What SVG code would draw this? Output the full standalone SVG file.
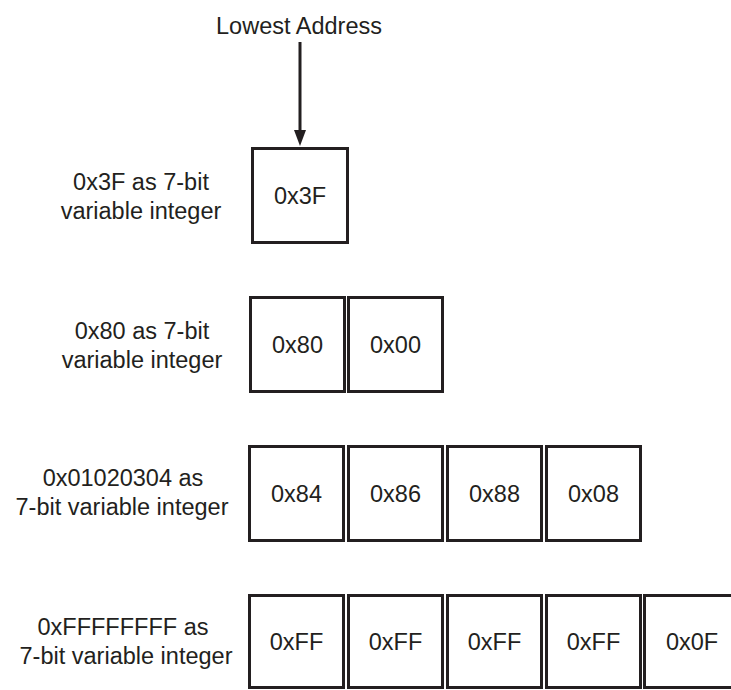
<svg xmlns="http://www.w3.org/2000/svg" width="731" height="690" viewBox="0 0 731 690">
  <defs>
    <!-- head reaches 8px beyond the line end so the shaft stays hidden under it -->
    <marker id="arrowhead" viewBox="0 0 16 12" refX="8" refY="6" markerWidth="16" markerHeight="12" markerUnits="userSpaceOnUse" orient="auto">
      <path d="M0,0 L16,6 L0,12 Z" fill="#231f20"/>
    </marker>
    <style>
      text { font-family: "Liberation Sans", Arial, sans-serif; font-size: 23.5px; fill: #231f20; }
      .lbl { text-anchor: middle; }
      .val { text-anchor: middle; }
      .cell { fill: #ffffff; stroke: #231f20; stroke-width: 3; }
      .conn { stroke: #231f20; stroke-width: 3; fill: none; }
    </style>
  </defs>
  <rect width="731" height="690" fill="#ffffff"/>

  <!-- pointer caption -->
  <g id="lowest-address">
    <text class="lbl" x="299" y="34">Lowest Address</text>
  </g>

  <!-- row 1: 0x3F -->
  <g id="row1-label">
    <text class="lbl" x="141" y="189.5">0x3F as 7-bit</text>
    <text class="lbl" x="141" y="218.5">variable integer</text>
  </g>
  <g id="row1-byte0">
    <rect class="cell" x="252.5" y="148.5" width="95" height="94"/>
    <text class="val" x="300" y="204">0x3F</text>
  </g>

  <!-- row 2: 0x80 -->
  <g id="row2-label">
    <text class="lbl" x="142" y="338.5">0x80 as 7-bit</text>
    <text class="lbl" x="142" y="367.5">variable integer</text>
  </g>
  <g id="row2-byte0">
    <rect class="cell" x="250.5" y="297.5" width="94" height="94"/>
    <text class="val" x="297.5" y="353">0x80</text>
  </g>
  <g id="row2-byte1">
    <rect class="cell" x="348.5" y="297.5" width="94" height="94"/>
    <text class="val" x="395.5" y="353">0x00</text>
  </g>

  <!-- row 3: 0x01020304 -->
  <g id="row3-label">
    <text class="lbl" x="123" y="486">0x01020304 as</text>
    <text class="lbl" x="122" y="515">7-bit variable integer</text>
  </g>
  <g id="row3-byte0">
    <rect class="cell" x="249.5" y="446.5" width="94" height="94"/>
    <text class="val" x="296.5" y="502">0x84</text>
  </g>
  <g id="row3-byte1">
    <rect class="cell" x="348.5" y="446.5" width="94" height="94"/>
    <text class="val" x="395.5" y="502">0x86</text>
  </g>
  <g id="row3-byte2">
    <rect class="cell" x="447.5" y="446.5" width="94" height="94"/>
    <text class="val" x="494.5" y="502">0x88</text>
  </g>
  <g id="row3-byte3">
    <rect class="cell" x="546.5" y="446.5" width="94" height="94"/>
    <text class="val" x="593.5" y="502">0x08</text>
  </g>

  <!-- row 4: 0xFFFFFFFF -->
  <g id="row4-label">
    <text class="lbl" x="123" y="635">0xFFFFFFFF as</text>
    <text class="lbl" x="126" y="664">7-bit variable integer</text>
  </g>
  <g id="row4-byte0">
    <rect class="cell" x="249.5" y="595.5" width="94" height="92"/>
    <text class="val" x="296.5" y="650">0xFF</text>
  </g>
  <g id="row4-byte1">
    <rect class="cell" x="348.5" y="595.5" width="94" height="92"/>
    <text class="val" x="395.5" y="650">0xFF</text>
  </g>
  <g id="row4-byte2">
    <rect class="cell" x="447.5" y="595.5" width="94" height="92"/>
    <text class="val" x="494.5" y="650">0xFF</text>
  </g>
  <g id="row4-byte3">
    <rect class="cell" x="546.5" y="595.5" width="94" height="92"/>
    <text class="val" x="593.5" y="650">0xFF</text>
  </g>
  <g id="row4-byte4">
    <rect class="cell" x="644.5" y="595.5" width="94" height="92"/>
    <text class="val" x="692" y="650">0x0F</text>
  </g>

  <!-- connectors -->
  <g id="connectors">
    <line class="conn" x1="300" y1="42" x2="300" y2="138" marker-end="url(#arrowhead)"/>
  </g>
</svg>
